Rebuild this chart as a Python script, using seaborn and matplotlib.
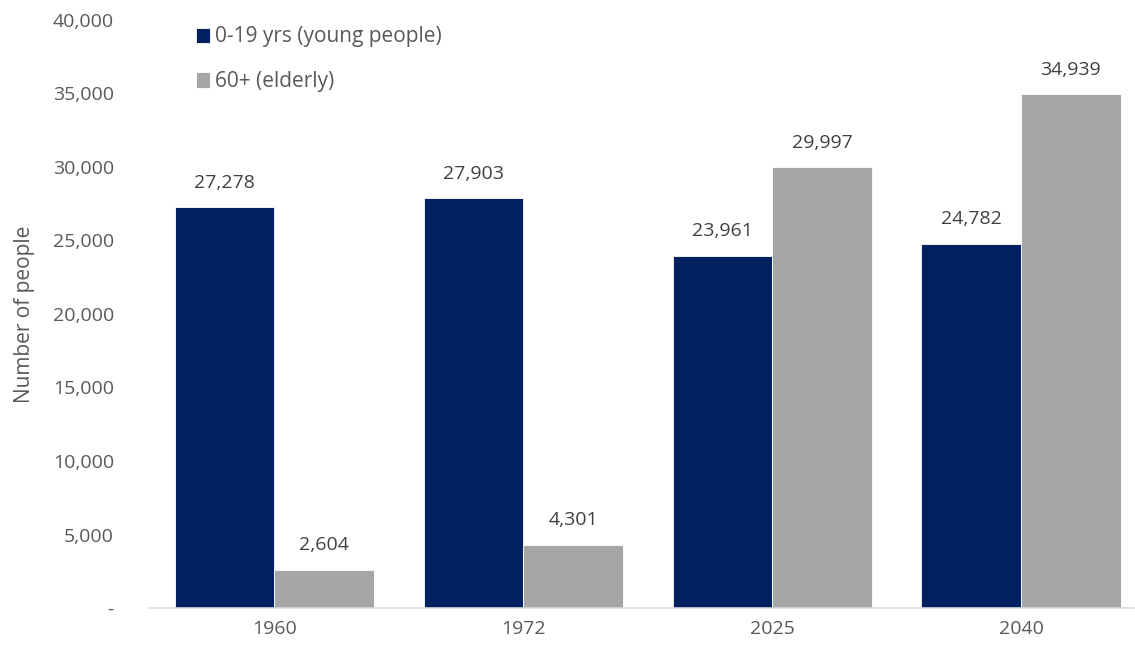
import matplotlib
matplotlib.use("Agg")
import matplotlib.pyplot as plt
import matplotlib.ticker as mticker
import seaborn as sns
import pandas as pd

years = ["1960", "1972", "2025", "2040"]
young = [27278, 27903, 23961, 24782]
elderly = [2604, 4301, 29997, 34939]
series_names = ["0-19 yrs (young people)", "60+ (elderly)"]
colors = ["#002060", "#A6A6A6"]

df = pd.DataFrame({
    "year": years * 2,
    "value": young + elderly,
    "group": [series_names[0]] * len(years) + [series_names[1]] * len(years),
})

sns.set_theme(style="white")
plt.rcParams["font.family"] = ["Open Sans", "DejaVu Sans"]

fig = plt.figure(figsize=(11.35, 6.49), dpi=100)
ax = fig.add_axes([150 / 1135, 1 - 608 / 649, 1 - 150 / 1135, (608 - 20) / 649])

sns.barplot(data=df, x="year", y="value", hue="group", palette=colors,
            width=0.8, saturation=1, ax=ax, order=years, hue_order=series_names,
            edgecolor="white", linewidth=0.6)

ax.set_ylim(0, 40000)
ax.set_xlim(-0.5, 3.458)
ax.yaxis.set_major_locator(mticker.MultipleLocator(5000))
ax.yaxis.set_major_formatter(
    mticker.FuncFormatter(lambda v, p: "-" if v == 0 else f"{int(v):,}"))

text_color = "#595959"
ax.tick_params(axis="both", labelsize=14, colors=text_color, length=0, pad=9)
ax.tick_params(axis="y", pad=26)
ax.set_xlabel("")
ax.set_ylabel("Number of people", fontsize=15, color=text_color)
ax.yaxis.set_label_coords(-0.117, 0.5)

for side in ["top", "right", "left"]:
    ax.spines[side].set_visible(False)
ax.spines["bottom"].set_color("#D9D9D9")
ax.spines["bottom"].set_linewidth(1.2)

for cont in ax.containers:
    ax.bar_label(cont, labels=[f"{int(v):,}" for v in cont.datavalues],
                 padding=11, fontsize=14, color="#404040")

leg = ax.legend(loc="upper left", bbox_to_anchor=(0.028, 1.021), frameon=False,
                fontsize=15, labelcolor=text_color, handlelength=0.65,
                handleheight=0.75, handletextpad=0.25, labelspacing=1.15)

fig.savefig("out.png", dpi=100)
